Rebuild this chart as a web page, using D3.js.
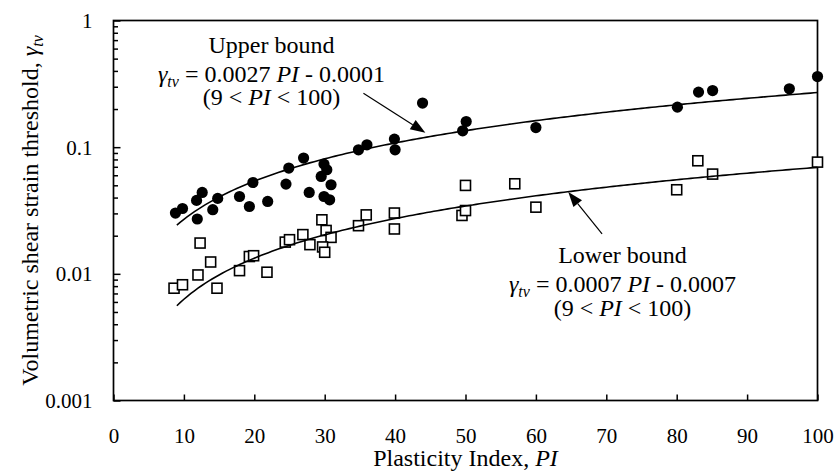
<!DOCTYPE html>
<html>
<head>
<meta charset="utf-8">
<script src="https://cdn.jsdelivr.net/npm/d3@7"></script>
<style>
  html, body { margin: 0; padding: 0; background: #fff; }
</style>
</head>
<body>
<svg id="chart" width="835" height="472"></svg>
<script>
// Upper-bound data set (filled circles): plasticity index and threshold strain
const upperPI = [8.8, 9.8, 11.9, 11.8, 12.6, 14.1, 14.8, 17.9, 19.3, 19.8, 21.9, 24.5, 24.9, 27.0, 27.8,
                 29.9, 30.3, 29.5, 30.9, 29.9, 30.7, 34.8, 36.0, 39.9, 40.0, 43.9, 49.6, 50.1, 60.0,
                 80.1, 83.1, 85.1, 96.0, 100];
const upperStrain = [0.0302, 0.0328, 0.0271, 0.0380, 0.0439, 0.0321, 0.0394, 0.0408, 0.0340, 0.0526, 0.0373,
                     0.0511, 0.0684, 0.0820, 0.0439, 0.0735, 0.0663, 0.0587, 0.0505, 0.0408, 0.0384,
                     0.0953, 0.1044, 0.1158, 0.0953, 0.2229, 0.1347, 0.1595, 0.1429, 0.207, 0.272,
                     0.280, 0.289, 0.361];

// Lower-bound data set (open squares)
const lowerPI = [8.6, 9.8, 12.0, 12.3, 13.8, 14.7, 17.9, 19.3, 19.9, 21.8, 24.4, 25.0, 26.9, 27.9, 29.6,
                 30.2, 30.9, 29.7, 30.0, 34.8, 35.9, 39.9, 39.9, 49.5, 50.0, 50.0, 57.0, 60.0, 80.0,
                 83.0, 85.1, 100];
const lowerStrain = [0.0077, 0.0082, 0.0098, 0.0175, 0.0124, 0.0077, 0.0106, 0.0137, 0.0139, 0.0103, 0.0178,
                     0.0186, 0.0204, 0.0170, 0.0267, 0.0220, 0.0194, 0.0163, 0.0148, 0.0240, 0.0292,
                     0.0302, 0.0226, 0.0289, 0.0316, 0.0499, 0.0514, 0.0336, 0.0461, 0.0781, 0.0613,
                     0.0762];

// Bound equations: strain = slope * PI + intercept, valid for 9 < PI < 100
const upperBound = [0.0027, -0.0001];
const lowerBound = [0.0007, -0.0007];
const boundRange = [9, 100];

// Axis ticks
const xTicks = [0, 10, 20, 30, 40, 50, 60, 70, 80, 90, 100];
const yTicks = [0.001, 0.01, 0.1, 1];
const yTickLabels = ["0.001", "0.01", "0.1", "1"];

const FONT = '"Liberation Serif"';
const svg = d3.select("#chart");
const m = { left: 113.5, top: 20.5, right: 17.5, bottom: 71.5 };
const W = 835 - m.left - m.right;
const H = 472 - m.top - m.bottom;

const x = d3.scaleLinear().domain([0, 100]).range([0, W]);
const y = d3.scaleLog().domain([0.001, 1]).range([H, 0]);

const g = svg.append("g").attr("transform", `translate(${m.left},${m.top})`);

// Frame
g.append("rect").attr("x", 0).attr("y", 0).attr("width", W).attr("height", H)
  .attr("fill", "none").attr("stroke", "#000").attr("stroke-width", 1.7);

// Minor log ticks on the y axis
const minor = [];
for (let d = 0.001; d < 1; d *= 10) for (let k = 2; k <= 9; k++) minor.push(d * k);
g.append("g")
  .call(d3.axisLeft(y).tickValues(minor).tickSize(-4.5).tickFormat(""))
  .call(a => a.select(".domain").remove())
  .selectAll("line").attr("stroke", "#000").attr("stroke-width", 1.5);

// Major y axis
const yAxis = g.append("g")
  .call(d3.axisLeft(y).tickValues(yTicks).tickSize(-7).tickPadding(21)
    .tickFormat((d, i) => yTickLabels[i]));
yAxis.select(".domain").remove();
yAxis.selectAll("line").attr("stroke", "#000").attr("stroke-width", 1.5);
yAxis.selectAll("text").attr("font-size", 21).attr("fill", "#000").attr("dy", "0.34em");

// X axis
const xAxis = g.append("g").attr("transform", `translate(0,${H})`)
  .call(d3.axisBottom(x).tickValues(xTicks).tickSize(-6).tickFormat(d3.format("d")));
xAxis.select(".domain").remove();
xAxis.selectAll("line").attr("stroke", "#000").attr("stroke-width", 1.5);
xAxis.selectAll("text").attr("font-size", 21).attr("fill", "#000").attr("y", 42.5).attr("dy", 0);

// Bound curves
function boundPoints(coef) {
  const pts = [];
  for (let p = boundRange[0]; p <= boundRange[1] + 1e-9; p += 0.5) pts.push([p, coef[0] * p + coef[1]]);
  return pts;
}
const line = d3.line().x(d => x(d[0])).y(d => y(d[1]));

// Markers
g.append("g").selectAll("rect").data(lowerPI.map((p, i) => [p, lowerStrain[i]])).join("rect")
  .attr("x", d => x(d[0]) - 5).attr("y", d => y(d[1]) - 5)
  .attr("width", 10).attr("height", 10)
  .attr("fill", "#fff").attr("stroke", "#000").attr("stroke-width", 1.6);

g.append("g").selectAll("circle").data(upperPI.map((p, i) => [p, upperStrain[i]])).join("circle")
  .attr("cx", d => x(d[0])).attr("cy", d => y(d[1])).attr("r", 5.6).attr("fill", "#000");

[upperBound, lowerBound].forEach(c => {
  g.append("path").datum(boundPoints(c)).attr("d", line)
    .attr("fill", "none").attr("stroke", "#000").attr("stroke-width", 1.6);
});

// Leader arrows pointing at each bound curve
function arrow(from, to) {
  const x1 = x(from[0]), y1 = y(from[1]), x2 = x(to[0]), y2 = y(to[1]);
  const ang = Math.atan2(y2 - y1, x2 - x1);
  const L = 15, Hw = 5.5;
  const bx = x2 - L * Math.cos(ang), by = y2 - L * Math.sin(ang);
  g.append("line").attr("x1", x1).attr("y1", y1).attr("x2", bx).attr("y2", by)
    .attr("stroke", "#000").attr("stroke-width", 1.2);
  const px = -Math.sin(ang) * Hw, py = Math.cos(ang) * Hw;
  g.append("path")
    .attr("d", `M${x2},${y2}L${bx + px},${by + py}L${bx - px},${by - py}Z`)
    .attr("fill", "#000");
}
arrow([35.5, 0.266], [44.3, 0.130]);
arrow([69.4, 0.0207], [64.6, 0.0443]);

// Equation labels
function label(cx, ys, title, coef) {
  const mk = yy => g.append("text").attr("font-size", 24)
    .attr("text-anchor", "middle").attr("fill", "#000").attr("x", cx).attr("y", yy);
  mk(ys[0]).text(title);
  const l2 = mk(ys[1]);
  l2.append("tspan").attr("font-style", "italic").text("γ");
  l2.append("tspan").attr("font-style", "italic").attr("font-size", 16).attr("dy", 5).text("tv");
  l2.append("tspan").attr("dy", -5).text(` = ${coef[0].toFixed(4)} `);
  l2.append("tspan").attr("font-style", "italic").text("PI");
  l2.append("tspan").text(` - ${Math.abs(coef[1]).toFixed(4)}`);
  const l3 = mk(ys[2]);
  l3.append("tspan").text(`(${boundRange[0]} < `);
  l3.append("tspan").attr("font-style", "italic").text("PI");
  l3.append("tspan").text(` < ${boundRange[1]})`);
}
label(271.5 - m.left, [53 - m.top, 81.5 - m.top, 104.5 - m.top], "Upper bound", upperBound);
label(622.5 - m.left, [262.5 - m.top, 291.5 - m.top, 315.5 - m.top], "Lower bound", lowerBound);

// Axis titles
const xt = svg.append("text").attr("x", m.left + W / 2).attr("y", 466).attr("font-size", 24)
  .attr("text-anchor", "middle").attr("fill", "#000");
xt.append("tspan").text("Plasticity Index, ");
xt.append("tspan").attr("font-style", "italic").text("PI");

const yt = svg.append("text").attr("transform", `translate(38,${m.top + H / 2}) rotate(-90)`)
  .attr("font-size", 24).attr("text-anchor", "middle").attr("fill", "#000");
yt.append("tspan").text("Volumetric shear strain threshold, ");
yt.append("tspan").attr("font-style", "italic").text("γ");
yt.append("tspan").attr("font-style", "italic").attr("font-size", 16).attr("dy", 5).text("tv");

// Serif face for every label
svg.selectAll("g").attr("font-family", null);
svg.selectAll("text").style("font-family", FONT);
</script>
</body>
</html>
